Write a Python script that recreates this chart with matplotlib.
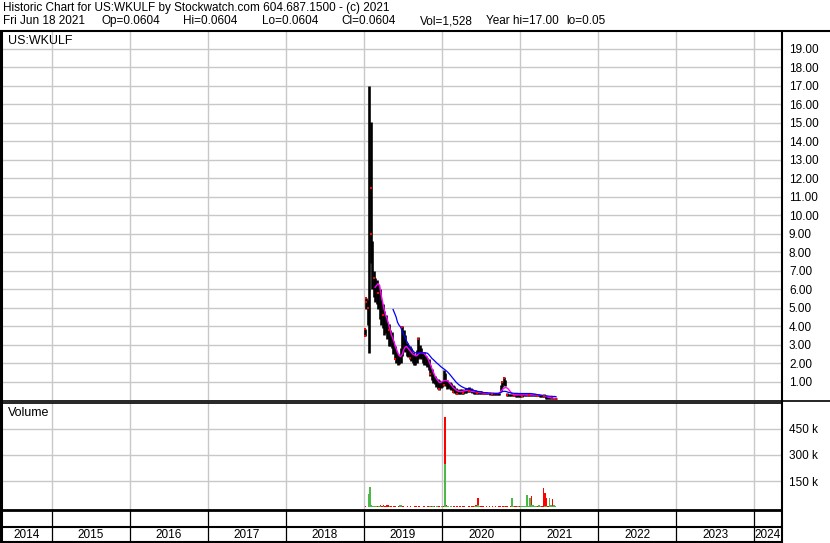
"""Stockwatch style historic chart for US:WKULF: weekly price bars, two moving averages and volume."""
import matplotlib
matplotlib.use('Agg')

import numpy as np
import pandas as pd
from matplotlib import pyplot as plt
from matplotlib.lines import Line2D
import matplotlib.dates as mdates

plt.rcParams['font.family'] = ['Liberation Sans', 'DejaVu Sans']

# ---- data (one entry per week) ----
weeks = pd.date_range('2019-01-04', periods=129, freq='7D')

highs = [
    3.85, 5.5, 5.4, 17.0, 15.06, 8.6, 7.0, 6.6, 6.5, 6.2,
    6.0, 5.4, 5.2, 4.8, 4.6, 4.2, 4.1, 3.8, 3.7, 3.2,
    2.9, 2.6, 2.5, 2.4, 2.8, 4.0, 3.8, 3.5, 3.1, 3.0,
    2.9, 2.8, 2.6, 2.5, 2.4, 2.7, 3.4, 3.0, 2.8, 2.6,
    2.6, 2.4, 2.3, 2.2, 1.9, 1.7, 1.4, 1.3, 1.2, 1.15,
    1.1, 1.0, 1.05, 1.6, 1.45, 1.1, 1.0, 0.95, 0.9, 0.8,
    0.75, 0.65, 0.6, 0.55, 0.6, 0.6, 0.55, 0.6, 0.65, 0.65,
    0.7, 0.65, 0.6, 0.55, 0.55, 0.5, 0.5, 0.5, 0.5, 0.45,
    0.45, 0.45, 0.4, 0.4, 0.4, 0.4, 0.4, 0.4, 0.4, 0.38,
    0.4, 0.8, 1.0, 1.25, 1.1, 0.4, 0.35, 0.35, 0.35, 0.35,
    0.32, 0.3, 0.3, 0.3, 0.3, 0.3, 0.3, 0.32, 0.3, 0.3,
    0.3, 0.28, 0.3, 0.3, 0.3, 0.32, 0.3, 0.28, 0.28, 0.28,
    0.3, 0.2, 0.15, 0.15, 0.12, 0.12, 0.12, 0.1, 0.1,
]
lows = [
    3.45, 4.9, 4.06, 2.53, 7.4, 6.0, 5.6, 5.3, 5.2, 4.9,
    4.4, 4.06, 3.9, 3.5, 3.6, 3.3, 2.9, 2.9, 2.8, 2.5,
    2.2, 2.0, 1.9, 1.95, 2.0, 2.4, 2.7, 2.6, 2.4, 2.35,
    2.2, 2.1, 2.0, 1.9, 1.9, 2.0, 2.2, 2.3, 2.2, 2.0,
    1.9, 1.9, 1.8, 1.6, 1.3, 1.1, 0.9, 0.85, 0.7, 0.6,
    0.55, 0.65, 0.7, 0.8, 0.75, 0.6, 0.65, 0.6, 0.55, 0.45,
    0.4, 0.3, 0.3, 0.3, 0.35, 0.35, 0.35, 0.4, 0.4, 0.45,
    0.45, 0.45, 0.4, 0.35, 0.35, 0.35, 0.3, 0.3, 0.3, 0.3,
    0.3, 0.3, 0.3, 0.3, 0.25, 0.25, 0.25, 0.25, 0.25, 0.25,
    0.25, 0.5, 0.7, 0.8, 0.75, 0.2, 0.2, 0.2, 0.2, 0.2,
    0.2, 0.18, 0.18, 0.18, 0.18, 0.18, 0.2, 0.2, 0.2, 0.2,
    0.2, 0.2, 0.2, 0.2, 0.2, 0.2, 0.2, 0.18, 0.18, 0.15,
    0.15, 0.08, 0.06, 0.06, 0.06, 0.05, 0.05, 0.05, 0.06,
]

# red closing marks: week index and price
red_week = [0, 0, 1, 1, 2, 4, 4, 6, 9, 12, 16, 20, 25, 30, 36, 44, 50, 53, 59, 62,
            66, 70, 75, 80, 85, 92, 93, 95, 100, 105, 110, 115, 120, 125, 128]
red_price = [3.83, 3.48, 5.5, 5.3, 5.0, 11.5, 9.0, 6.6, 5.8, 4.6, 3.8, 2.2, 3.97, 2.3, 3.3, 1.4, 0.6, 0.8, 0.45, 0.35,
             0.4, 0.5, 0.4, 0.35, 0.3, 1.0, 1.2, 0.25, 0.22, 0.22, 0.25, 0.22, 0.2, 0.1, 0.08]

# short moving average (magenta) starts at week 7, long one (blue) at week 19
ma_short = [
    6.1, 6.2, 6.3, 6.2,
    5.7, 5.3, 4.9, 4.6, 4.4, 4.1, 3.8, 3.5, 3.3, 3.05,
    2.8, 2.6, 2.4, 2.35, 2.45, 2.7, 2.85, 2.9, 2.8, 2.7,
    2.6, 2.5, 2.45, 2.4, 2.4, 2.5, 2.55, 2.55, 2.55, 2.5,
    2.4, 2.3, 2.1, 1.9, 1.7, 1.5, 1.3, 1.15, 1.05, 0.95,
    0.95, 1.0, 1.05, 1.05, 1.05, 1.0, 0.9, 0.8, 0.7, 0.62,
    0.55, 0.5, 0.46, 0.45, 0.46, 0.48, 0.5, 0.52, 0.52, 0.5,
    0.48, 0.46, 0.45, 0.44, 0.42, 0.41, 0.4, 0.4, 0.38, 0.38,
    0.37, 0.36, 0.36, 0.36, 0.35, 0.35, 0.35, 0.35, 0.35, 0.37,
    0.45, 0.55, 0.63, 0.67, 0.66, 0.6, 0.5, 0.4, 0.32, 0.28,
    0.27, 0.27, 0.28, 0.27, 0.27, 0.28, 0.28, 0.27, 0.27, 0.28,
    0.28, 0.27, 0.27, 0.27, 0.26, 0.26, 0.26, 0.25, 0.24, 0.22,
    0.2, 0.18, 0.15, 0.13, 0.12, 0.1, 0.09, 0.09,
]
ma_long = [
    4.9, 4.7, 4.5, 4.2, 4.05, 3.95, 3.75, 3.55, 3.4, 3.2,
    3.05, 2.9, 2.8, 2.7, 2.6, 2.55, 2.55, 2.55, 2.55, 2.55,
    2.55, 2.55, 2.55, 2.53, 2.45, 2.35, 2.25, 2.18, 2.1, 2.02,
    1.95, 1.88, 1.8, 1.74, 1.68, 1.62, 1.55, 1.47, 1.38, 1.28,
    1.18, 1.08, 0.98, 0.9, 0.83, 0.77, 0.72, 0.68, 0.64, 0.62,
    0.6, 0.58, 0.56, 0.54, 0.52, 0.5, 0.48, 0.46, 0.45, 0.44,
    0.41, 0.4, 0.4, 0.39, 0.38, 0.38, 0.37, 0.37, 0.36, 0.36,
    0.36, 0.37, 0.4, 0.45, 0.47, 0.47, 0.45, 0.42, 0.4, 0.38,
    0.37, 0.36, 0.36, 0.36, 0.35, 0.35, 0.35, 0.35, 0.35, 0.35,
    0.35, 0.35, 0.35, 0.34, 0.33, 0.32, 0.3, 0.28, 0.27, 0.26,
    0.25, 0.24, 0.23, 0.22, 0.21, 0.2, 0.2, 0.19, 0.19, 0.18,
]

# volume in thousands of shares
vol_up = [
    0, 0, 75, 117, 15, 5, 5, 8, 3, 5,
    6, 4, 5, 3, 4, 3, 6, 2, 3, 4,
    3, 2, 3, 13, 13, 4, 3, 2, 3, 2,
    3, 4, 2, 3, 2, 3, 4, 2, 3, 2,
    3, 2, 4, 5, 3, 6, 3, 2, 5, 3,
    4, 5, 3, 248, 5, 6, 3, 5, 3, 4,
    3, 2, 4, 3, 2, 3, 4, 2, 3, 4,
    3, 2, 3, 5, 6, 15, 8, 3, 4, 2,
    3, 2, 3, 2, 4, 3, 2, 3, 2, 3,
    2, 4, 3, 5, 3, 2, 3, 4, 54, 5,
    4, 3, 5, 4, 6, 8, 8, 10, 71, 5,
    54, 15, 15, 6, 5, 4, 12, 5, 3, 4,
    6, 10, 4, 54, 15, 5, 15, 5, 3,
]
vol_down = [
    5, 3, 10, 30, 10, 8, 6, 5, 8, 6,
    12, 10, 12, 6, 15, 15, 5, 6, 4, 5,
    5, 4, 6, 4, 6, 5, 4, 3, 5, 4,
    5, 3, 4, 5, 6, 4, 5, 3, 4, 5,
    4, 3, 5, 4, 6, 4, 5, 3, 4, 5,
    3, 4, 5, 517, 12, 10, 4, 6, 3, 5,
    4, 6, 3, 5, 4, 6, 5, 4, 3, 5,
    4, 5, 6, 10, 12, 54, 10, 10, 5, 6,
    4, 6, 3, 5, 4, 6, 3, 5, 4, 6,
    5, 4, 6, 8, 5, 6, 4, 5, 6, 4,
    5, 6, 4, 6, 5, 8, 10, 6, 46, 10,
    20, 65, 8, 5, 4, 6, 5, 4, 6, 109,
    82, 54, 10, 8, 6, 48, 10, 6, 4,
]

years = list(range(2014, 2025))
price_ticks = list(range(1, 20))
volume_ticks = [150, 300, 450]

header1 = 'Historic Chart for US:WKULF by Stockwatch.com 604.687.1500 - (c) 2021'
header2 = ['Fri Jun 18 2021', 'Op=0.0604', 'Hi=0.0604', 'Lo=0.0604', 'Cl=0.0604',
           'Vol=1,528', 'Year hi=17.00', 'lo=0.05']
header2_x = [3, 101, 183, 262, 341, 420, 486, 566]   # left edge of each field, px

# ---- layout in pixels ----
W, H = 830, 543
GRID = '#c8c8c8'
fig = plt.figure(figsize=(W / 100, H / 100), dpi=100)


def box(left, top, right, bottom):
    return [left / W, 1 - bottom / H, (right - left) / W, (bottom - top) / H]


def fig_line(x0, y0, x1, y1, lw):
    fig.add_artist(Line2D([x0 / W, x1 / W], [1 - y0 / H, 1 - y1 / H],
                          transform=fig.transFigure, color='black', lw=lw,
                          solid_capstyle='butt'))


x_lo = pd.Timestamp('2014-05-12')
x_hi = pd.Timestamp('2024-05-11')
year_starts = [pd.Timestamp(f'{y}-01-01') for y in years[1:]]

ax_p = fig.add_axes(box(2, 31, 782, 400))
ax_v = fig.add_axes(box(2, 403, 782, 510))
ax_b = fig.add_axes(box(2, 510, 782, 527))
ax_y = fig.add_axes(box(2, 527, 782, 542))

for ax in (ax_p, ax_v, ax_b, ax_y):
    ax.set_xlim(x_lo, x_hi)
    ax.set_xticks([])
    for s in ax.spines.values():
        s.set_visible(False)

# price panel
ax_p.set_ylim(0, 19.97)
for y in price_ticks:
    ax_p.axhline(y, color=GRID, lw=1.0, zorder=0)
for d in year_starts:
    ax_p.axvline(d, color=GRID, lw=1.0, zorder=0)
ax_p.vlines(weeks, lows, highs, color='black', lw=1.9, zorder=2)
ax_p.plot(weeks[7:], ma_short, color='#ff00ff', lw=1.0, zorder=3)
ax_p.plot(weeks[19:], ma_long, color='#0000ff', lw=0.9, zorder=3)
ax_p.plot(weeks[red_week], red_price, 's', color='red', ms=1.6, mew=0, zorder=4)
ax_p.yaxis.tick_right()
ax_p.set_yticks(price_ticks)
ax_p.set_yticklabels([f'{v:.2f}' for v in price_ticks])
ax_p.tick_params(axis='y', length=0, pad=5, labelsize=8.5)

# volume panel: red (down) bars behind, green (up) bars in front
ax_v.set_ylim(-15.6, 596)
for y in volume_ticks:
    ax_v.axhline(y, color=GRID, lw=1.0, zorder=0)
for d in year_starts:
    ax_v.axvline(d, color=GRID, lw=1.0, zorder=0)
ax_v.bar(weeks, vol_down, width=8, color='#ff0000', align='edge', zorder=2)
ax_v.bar(weeks, vol_up, width=8, color='#4cb848', align='edge', zorder=3)
ax_v.yaxis.tick_right()
ax_v.set_yticks(volume_ticks)
ax_v.set_yticklabels([f'{v} k' for v in volume_ticks])
ax_v.tick_params(axis='y', length=0, pad=5, labelsize=8.5)

# empty band and year labels
for ax in (ax_b, ax_y):
    ax.set_yticks([])
    for d in year_starts:
        ax.axvline(d, color='black', lw=0.9)
lo_num, hi_num = mdates.date2num(x_lo), mdates.date2num(x_hi)
for y in years:
    a = max(mdates.date2num(pd.Timestamp(f'{y}-01-01')), lo_num)
    b = min(mdates.date2num(pd.Timestamp(f'{y + 1}-01-01')), hi_num)
    ax_y.text((a + b) / 2, 0.45, str(y), transform=ax_y.get_xaxis_transform(),
              ha='center', va='center', fontsize=8.5)

# frame lines
fig_line(0, 31, W, 31, 1.5)
fig_line(0, 400.5, W, 400.5, 1.2)
fig_line(0, 403, 782, 403, 1.2)
fig_line(0, 509.5, 782, 509.5, 2.0)
fig_line(0, 526.5, 782, 526.5, 1.5)
fig_line(0, 541.5, 782, 541.5, 1.5)
fig_line(1, 31, 1, 543, 2.2)
fig_line(782, 31, 782, 543, 1.5)

# texts
fig.text(3 / W, 1 - 8 / H, header1, va='center', ha='left', fontsize=8.5)
for label, px in zip(header2, header2_x):
    fig.text(px / W, 1 - 21 / H, label, va='center', ha='left', fontsize=8.5)
fig.text(8 / W, 1 - 41 / H, 'US:WKULF', va='center', ha='left', fontsize=9)
fig.text(8 / W, 1 - 413 / H, 'Volume', va='center', ha='left', fontsize=9)

fig.savefig('out.png', dpi=100)
